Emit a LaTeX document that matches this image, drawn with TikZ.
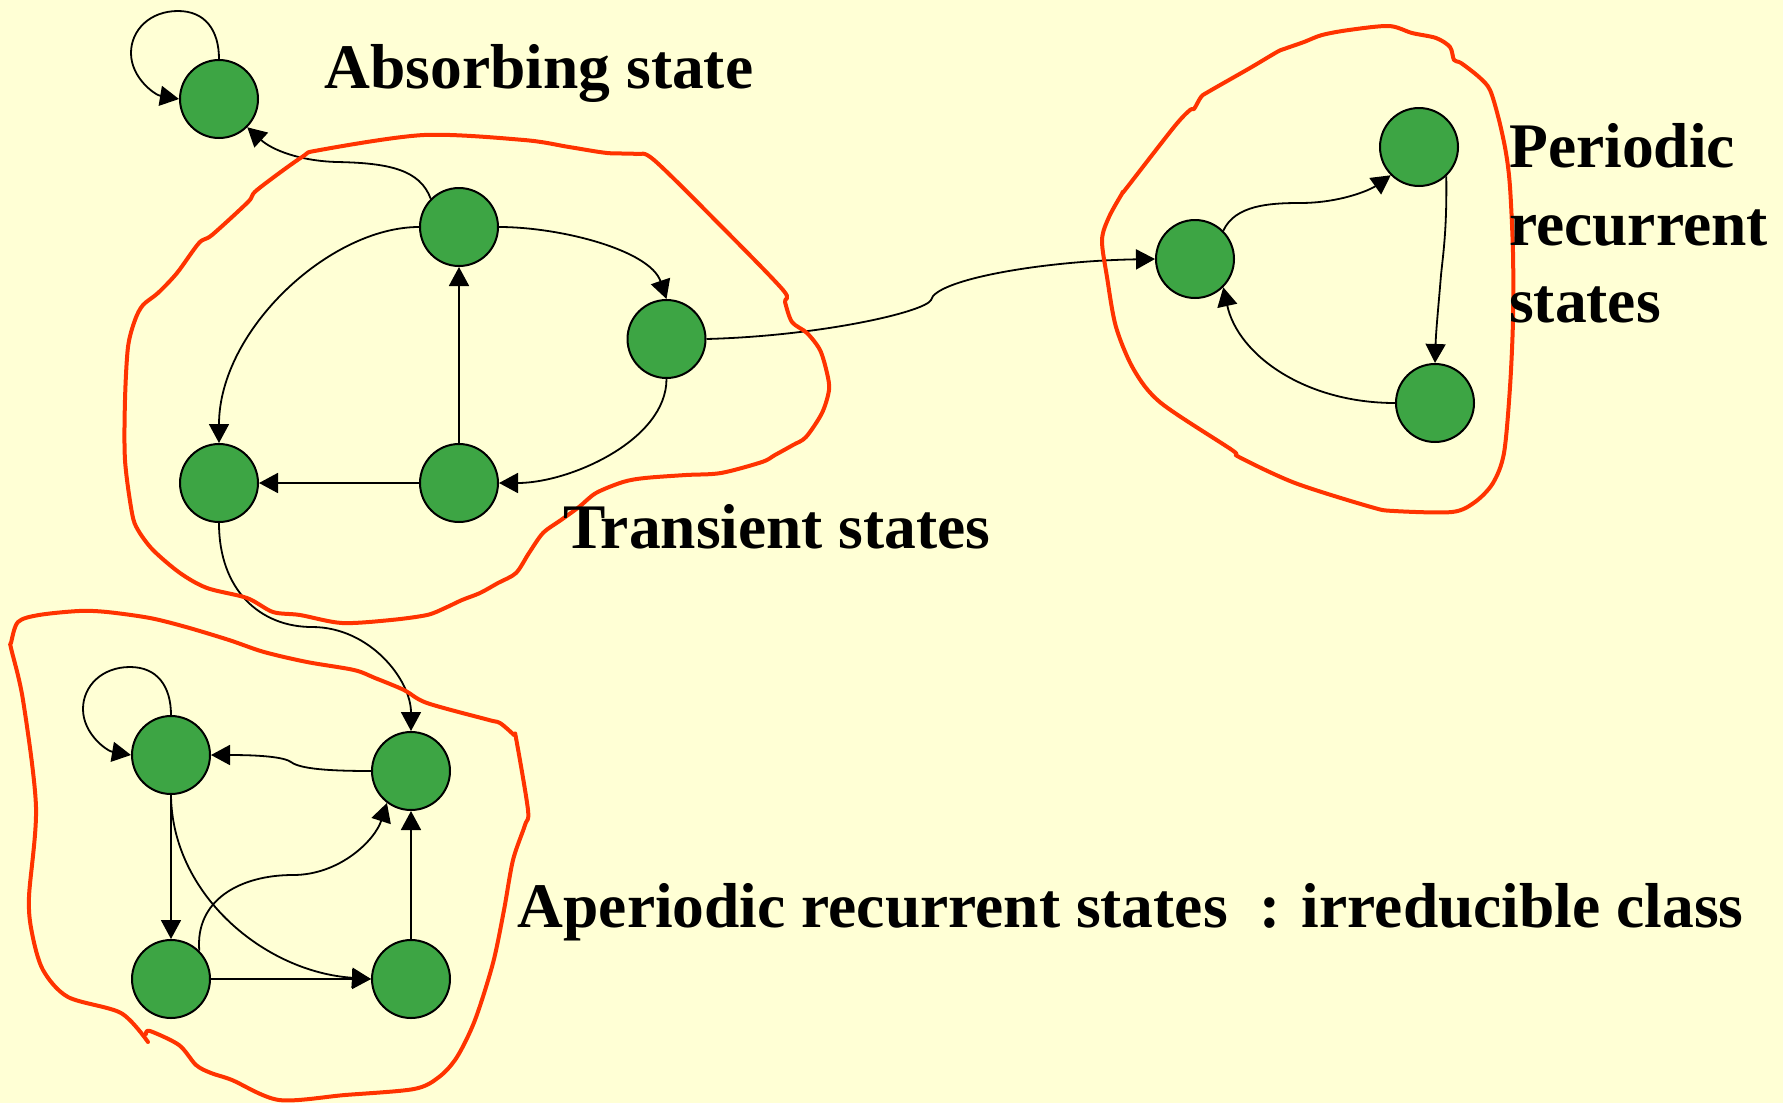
\documentclass[tikz,border=0pt]{standalone}
\usepackage{fontspec}
\setmainfont{Liberation Serif}
\usetikzlibrary{arrows.meta,calc}
\definecolor{paper}{HTML}{FFFFD5}
\definecolor{stategreen}{HTML}{3DA544}
\definecolor{penred}{HTML}{FF3300}
\pgfdeclarelayer{sheet}
\pgfdeclarelayer{wires}
\pgfsetlayers{sheet,wires,main}
\begin{document}
\begin{tikzpicture}[x=1pt, y=-1pt,
  state/.style={circle, draw=black, line width=2pt, fill=stategreen,
                minimum size=78pt, inner sep=0pt},
  link/.style={line width=1.8pt, -{Triangle[length=19pt,width=20pt]}},
  blob/.style={draw=penred, line width=4pt, line join=round, line cap=round},
  lbl/.style={font=\fontsize{63.5}{77}\selectfont\bfseries, inner sep=0pt,
              anchor=base west}]

% page
\begin{pgfonlayer}{sheet}
\fill[paper] (0,0) rectangle (1783,1103);
\end{pgfonlayer}
\useasboundingbox (0,0) rectangle (1783,1103);

% labels
\node[lbl] (absorb) at (324.5,88) {Absorbing state};
\node[lbl] (trans)  at (563,548)  {Transient states};
\node[lbl] (aper)   at (517.5,927) {Aperiodic recurrent states\ \ : irreducible class};
\node[lbl] (per1)   at (1509,167) {Periodic};
\node[lbl] (per2)   at (1509,245) {recurrent};
\node[lbl] (per3)   at (1509,322) {states};

% states
\node[state] (A0) at (219,99) {};
\node[state] (T1) at (459,227) {};
\node[state] (T2) at (666.5,339) {};
\node[state] (T3) at (219,483) {};
\node[state] (T4) at (459,483) {};
\node[state] (P1) at (1195,259) {};
\node[state] (P2) at (1419,147) {};
\node[state] (P3) at (1435,403) {};
\node[state] (Q1) at (171,755) {};
\node[state] (Q2) at (411,771) {};
\node[state] (Q3) at (171,979) {};
\node[state] (Q4) at (411,979) {};

\begin{pgfonlayer}{wires}
% transitions
\draw[link] (A0.north) .. controls ($(A0)+(0,-69)$) and ($(A0)+(-14,-88)$) .. ($(A0)+(-41,-88)$)
  .. controls ($(A0)+(-69,-88)$) and ($(A0)+(-88,-69)$) .. ($(A0)+(-88,-46)$)
  .. controls ($(A0)+(-88,-21)$) and ($(A0)+(-64,-4)$) .. (A0.west);
\draw[link] (T1.135) .. controls (420,170) and (390,163) .. (337,162)
  .. controls (300,161) and (272,150) .. (A0.-45);
\draw[link] (T1.east) .. controls (560,227) and (650,250) .. (T2.north);
\draw[link] (T1.west) .. controls (330,227) and (219,330) .. (T3.north);
\draw[link] (T4.north) -- (T1.south);
\draw[link] (T4.west) -- (T3.east);
\draw[link] (T2.south) .. controls (666.5,440) and (570,483) .. (T4.east);
\draw[link] (T2.east) .. controls (820,336) and (925,312) .. (931,300)
  .. controls (935,280) and (1040,261) .. (P1.west);
\draw[link] (T3.south) .. controls (219,590) and (260,627) .. (312,627)
  .. controls (370,627) and (411,680) .. (Q2.north);

\draw[link] (P1.45) .. controls (1235,205) and (1270,203) .. (1300,203)
  .. controls (1340,203) and (1370,190) .. (P2.-135);
\draw[link] (P2.-47) .. controls (1447,230) and (1443,255) .. (1441,275)
  .. controls (1439,300) and (1436,330) .. (P3.north);
\draw[link] (P3.west) .. controls (1305,403) and (1238,355) .. (P1.-45);

\draw[link] (Q1.north) .. controls ($(Q1)+(0,-69)$) and ($(Q1)+(-14,-88)$) .. ($(Q1)+(-41,-88)$)
  .. controls ($(Q1)+(-69,-88)$) and ($(Q1)+(-88,-69)$) .. ($(Q1)+(-88,-46)$)
  .. controls ($(Q1)+(-88,-21)$) and ($(Q1)+(-64,-4)$) .. (Q1.west);
\draw[link] (Q2.west) .. controls (330,771) and (300,769) .. (291,762)
  .. controls (284,757) and (260,755) .. (Q1.east);
\draw[link] (Q1.south) -- (Q3.north);
\draw[link] (Q3.east) -- (Q4.west);
\draw[link] (Q4.north) -- (Q2.south);
\draw[link] (Q1.south) .. controls (172,895) and (265,972) .. (Q4.west);
\draw[link] (Q3.45) .. controls (195,900) and (240,875) .. (293,875)
  .. controls (340,875) and (375,840) .. (Q2.-127);

% hand-drawn class outlines
\draw[blob] plot[smooth cycle, tension=0.5] coordinates {
  (320,150) (424,135) (524,140) (569,147) (607,153) (636,154) (654,160)
  (720,225) (783,290) (785,302) (792,322) (807,333) (820,350) (827,373)
  (829,390) (822,413) (806,437) (793,445) (775,455) (762,462) (721,473)
  (686,475) (645,478) (623,482) (596,493) (579,507) (561,520) (543,533)
  (529,553) (516,573) (498,583) (480,593) (462,600) (445,608) (427,615)
  (391,620) (342,623) (300,615) (273,612) (247,598) (207,588) (180,573)
  (153,550) (138,530) (132,513) (125,460) (125,400) (128,347) (135,320)
  (143,305) (158,293) (177,273) (199,243) (212,235) (248,202) (257,190)
  (302,157)};

\draw[blob] plot[smooth cycle, tension=0.5] coordinates {
  (1389,26) (1412,33) (1436,38) (1450,47) (1454,60) (1461,63) (1479,77)
  (1490,90) (1499,120) (1506,153) (1510,187) (1513,253) (1513,320)
  (1510,387) (1504,453) (1493,483) (1475,502) (1452,512) (1394,511)
  (1371,507) (1295,483) (1239,457) (1232,450) (1161,403) (1134,370)
  (1116,327) (1107,277) (1102,240) (1109,217) (1123,192) (1125,190)
  (1174,127) (1190,110) (1194,109) (1201,97) (1208,92) (1250,68)
  (1277,52) (1284,49) (1304,42) (1322,35) (1349,30)};

\draw[blob] plot[smooth, tension=0.5] coordinates {
  (146,1034) (150,1031) (179,1045) (196,1065) (211,1073) (232,1080)
  (279,1100) (345,1095) (414,1089) (439,1077) (457,1057) (475,1020)
  (493,963) (504,910) (513,860) (525,825) (528,810) (516,738) (514,735)
  (500,723) (489,720) (427,703) (404,690) (375,678) (354,670) (307,662)
  (264,652) (229,640) (186,627) (150,618) (107,612) (79,611) (39,615)
  (18,622) (11,643) (11,648) (23,700) (36,807) (29,897) (32,933)
  (43,970) (68,997) (121,1013) (148,1042)};
\end{pgfonlayer}
\end{tikzpicture}
\end{document}
